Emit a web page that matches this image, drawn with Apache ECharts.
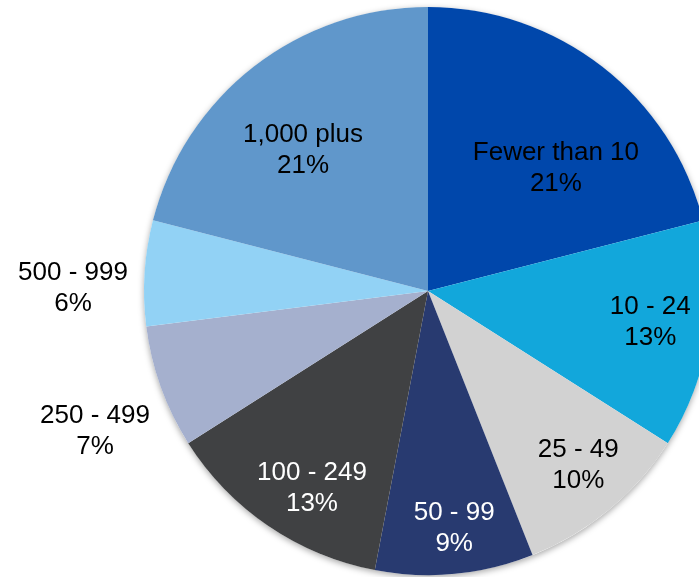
<!DOCTYPE html>
<html>
<head>
<meta charset="utf-8">
<script src="https://cdn.jsdelivr.net/npm/echarts@6/dist/echarts.min.js"></script>
<style>
  html, body { margin: 0; padding: 0; background: #ffffff; }
  #chart { width: 699px; height: 577px; }
</style>
</head>
<body>
<div id="chart"></div>
<script>
// ---- data ----
const categories = ['Fewer than 10', '10 - 24', '25 - 49', '50 - 99', '100 - 249', '250 - 499', '500 - 999', '1,000 plus'];
const shares = [21, 13, 10, 9, 13, 7, 6, 21];

// ---- styling ----
const colors = ['#0047AB', '#12A7DB', '#D2D2D2', '#283A70', '#404143', '#A5B0CE', '#92D2F5', '#6097CB'];
const textColors = ['#000', '#000', '#000', '#fff', '#fff', '#000', '#000', '#000'];
// label anchors: [angle clockwise from 12 o'clock (deg), distance as fraction of radius]
const labelAnchors = [[46.1, 0.625], [97.9, 0.79], [139.2, 0.81], [173.7, 0.84], [210.5, 0.805], [247.1, 1.273], [270.5, 1.25], [318.4, 0.663]];

const CX = 428, CY = 291, R = 284;

const chart = echarts.init(document.getElementById('chart'), null, { renderer: 'canvas' });

const data = categories.map((name, i) => ({
  name: name,
  value: shares[i],
  itemStyle: { color: colors[i] },
  label: { color: textColors[i] }
}));

chart.setOption({
  animation: false,
  backgroundColor: '#ffffff',
  series: [
    {
      type: 'pie',
      silent: true,
      center: [CX, CY],
      radius: R,
      label: { show: false },
      labelLine: { show: false },
      itemStyle: {
        color: '#ffffff',
        shadowBlur: 6,
        shadowColor: 'rgba(0,0,0,0.35)',
        shadowOffsetY: 2
      },
      data: [{ value: 1, name: '' }],
      z: 1
    },
    {
      type: 'pie',
      center: [CX, CY],
      radius: R,
      startAngle: 90,
      clockwise: true,
      z: 2,
      itemStyle: { borderWidth: 0 },
      label: {
        show: true,
        position: 'inside',
        formatter: '{b}\n{c}%',
        fontFamily: 'Arial, "Liberation Sans", sans-serif',
        fontSize: 26,
        lineHeight: 31,
        align: 'center'
      },
      labelLine: { show: false },
      labelLayout: function (params) {
        const a = labelAnchors[params.dataIndex];
        const rad = a[0] * Math.PI / 180;
        return {
          x: CX + Math.sin(rad) * R * a[1],
          y: CY - Math.cos(rad) * R * a[1],
          align: 'center',
          verticalAlign: 'middle'
        };
      },
      data: data
    }
  ]
});
</script>
</body>
</html>
